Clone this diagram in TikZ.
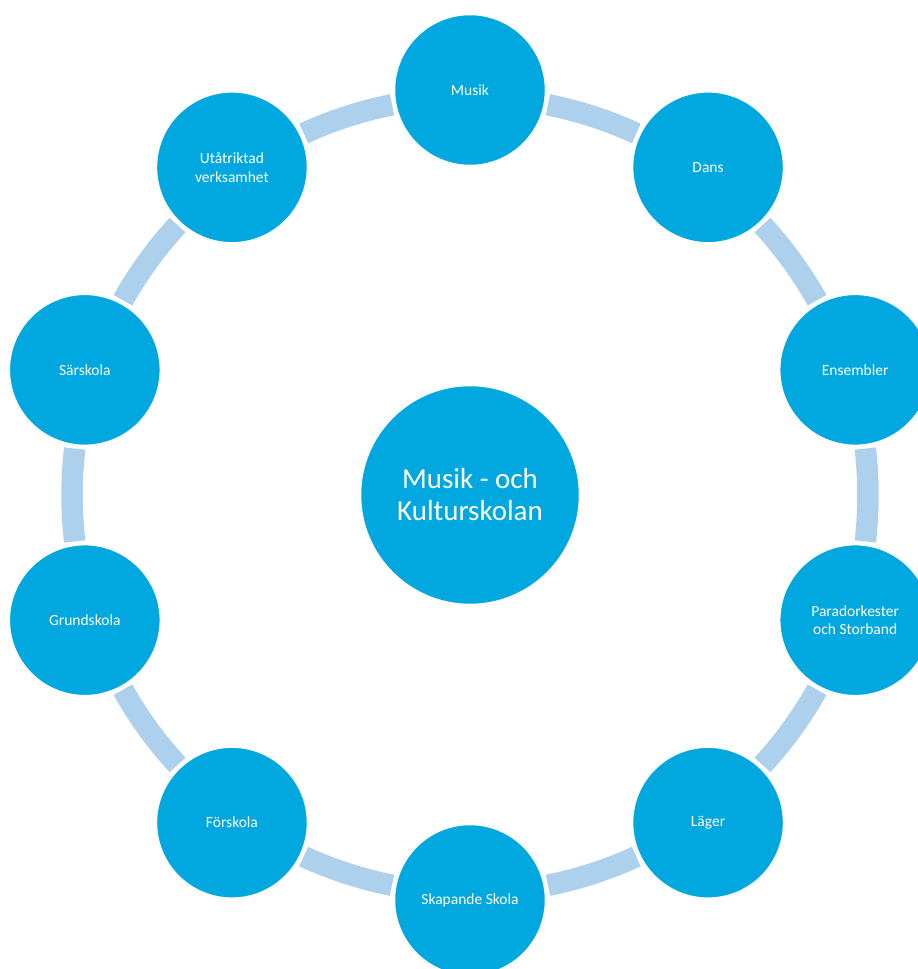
\documentclass[tikz,border=0pt]{standalone}
\usepackage{fontspec}
\setmainfont{Carlito}
\usetikzlibrary{calc}
\definecolor{disc}{HTML}{00A8DF}
\definecolor{band}{HTML}{ADD1EC}
\begin{document}
\begin{tikzpicture}[x=1pt,y=1pt,
  outer/.style={circle,fill=disc,draw=white,line width=2.5pt,minimum size=152pt,inner sep=0pt,
    text=white,align=center,font=\fontsize{15.5}{18.5}\selectfont},
  hub/.style={circle,fill=disc,draw=white,line width=2.5pt,minimum size=220pt,inner sep=0pt,
    text=white,align=center,font=\fontsize{29}{32}\selectfont},
  ringarc/.style={draw=band,line width=21.5pt,line cap=butt}]
\useasboundingbox (0,0) rectangle (918,-969);
\clip (0,0) rectangle (918,-969);
\coordinate (O) at (470,-495);
% connecting arcs
\foreach \a in {90,54,18,-18,-54,-90,-126,-162,-198,-234}{
  \draw[ringarc] ([shift={(\a-11.3:398)}]O) arc[start angle=\a-11.3, end angle=\a-24.7, radius=398];
}
% nodes
\node[hub] (c) at (O) {Musik - och\\Kulturskolan};
\node[outer] (n1) at ($(O)+(90:405)$) {Musik};
\node[outer] (n2) at ($(O)+(54:405)$) {Dans};
\node[outer] (n3) at ($(O)+(18:405)$) {Ensembler};
\node[outer] (n4) at ($(O)+(-18:405)$) {Paradorkester\\och Storband};
\node[outer] (n5) at ($(O)+(-54:405)$) {Läger};
\node[outer] (n6) at ($(O)+(-90:405)$) {Skapande Skola};
\node[outer] (n7) at ($(O)+(-126:405)$) {Förskola};
\node[outer] (n8) at ($(O)+(-162:405)$) {Grundskola};
\node[outer] (n9) at ($(O)+(162:405)$) {Särskola};
\node[outer] (n10) at ($(O)+(126:405)$) {Utåtriktad\\verksamhet};
\end{tikzpicture}
\end{document}
